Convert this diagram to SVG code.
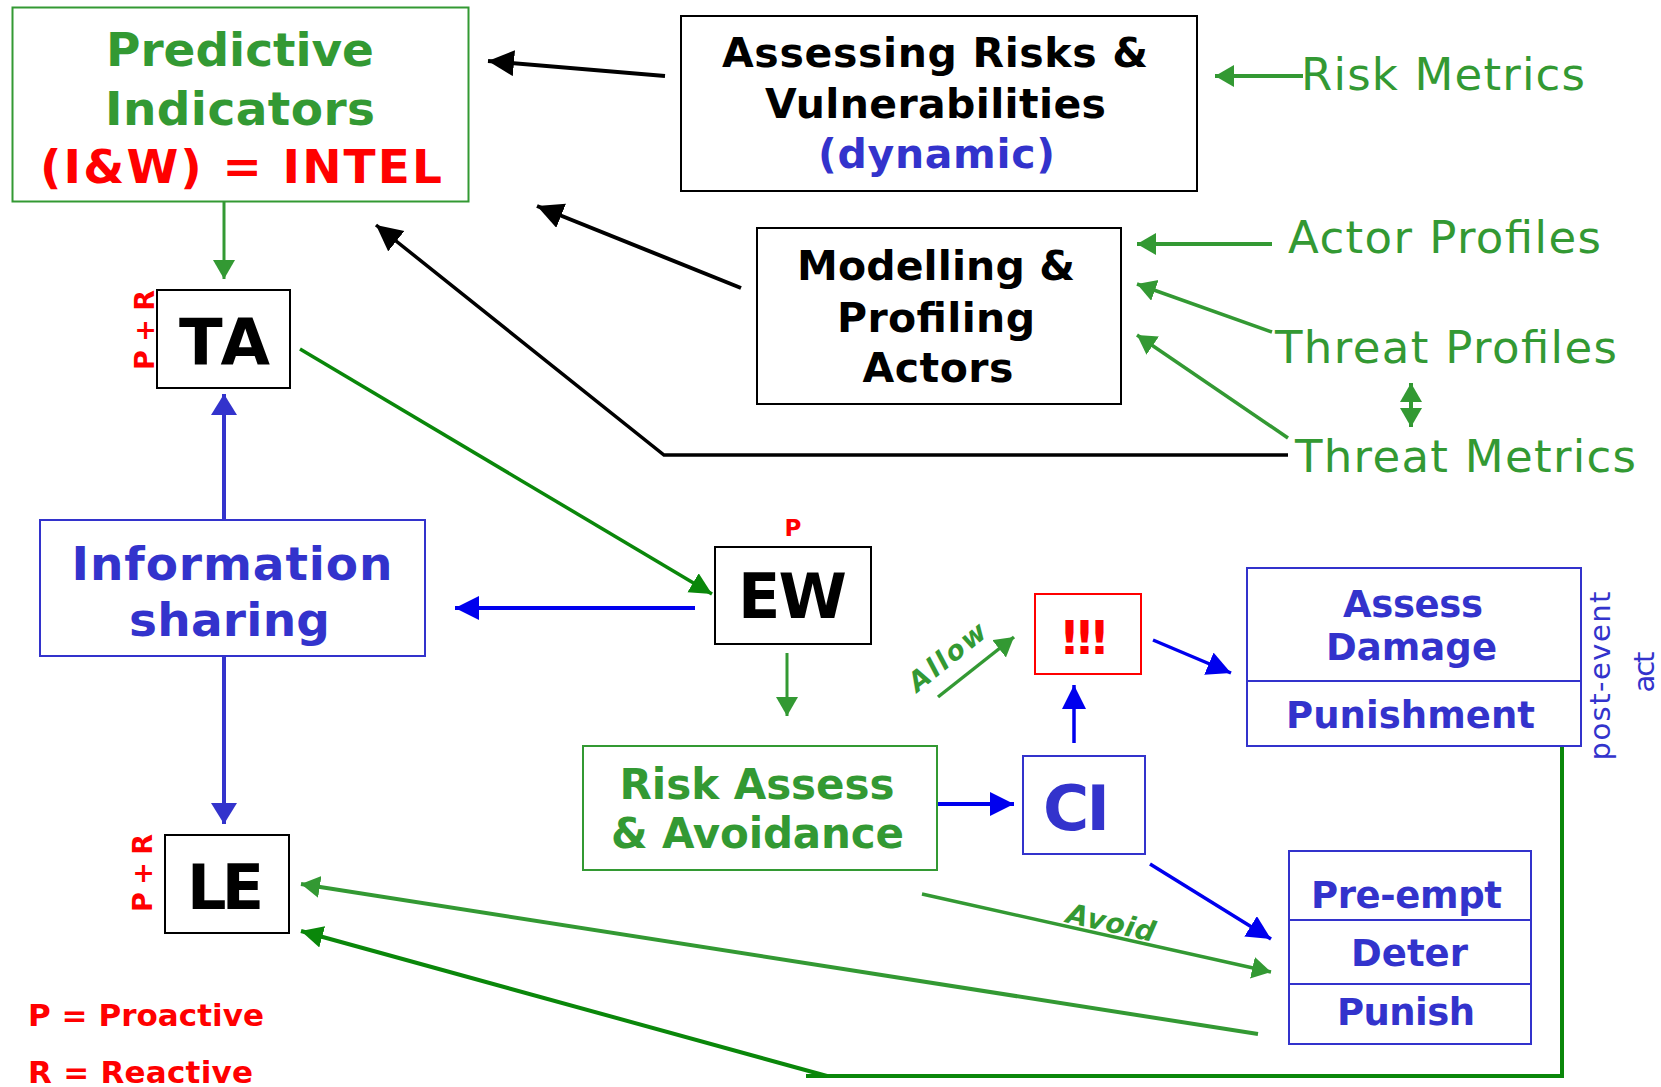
<svg xmlns="http://www.w3.org/2000/svg" width="1661" height="1087" viewBox="0 0 1661 1087">
<defs>
<style>
text{font-family:"DejaVu Sans","Liberation Sans",sans-serif;}
.b{font-weight:bold;}
.box{fill:#fff;stroke-width:2;}
.gr{fill:#339933;} .bl{fill:#3333cc;} .rd{fill:#ff0000;} .bk{fill:#000;}
.c{fill:none;}
</style>
<marker id="mBk" markerUnits="userSpaceOnUse" markerWidth="28" markerHeight="28" refX="26" refY="13" orient="auto"><path d="M0,0 L26,13 L0,26 z" fill="#000"/></marker>
<marker id="mGr" markerUnits="userSpaceOnUse" markerWidth="22" markerHeight="24" refX="19" refY="11" orient="auto"><path d="M0,0 L19,11 L0,22 z" fill="#339933"/></marker>
<marker id="mGrS" markerUnits="userSpaceOnUse" markerWidth="22" markerHeight="24" refX="0" refY="11" orient="auto"><path d="M19,0 L0,11 L19,22 z" fill="#339933"/></marker>
<marker id="mDg" markerUnits="userSpaceOnUse" markerWidth="24" markerHeight="24" refX="22" refY="11" orient="auto"><path d="M0,0 L22,11 L0,22 z" fill="#0a870a"/></marker>
<marker id="mBl" markerUnits="userSpaceOnUse" markerWidth="26" markerHeight="26" refX="24" refY="12" orient="auto"><path d="M0,0 L24,12 L0,24 z" fill="#0000ee"/></marker>
<marker id="mPu" markerUnits="userSpaceOnUse" markerWidth="24" markerHeight="28" refX="21" refY="13" orient="auto"><path d="M0,0 L21,13 L0,26 z" fill="#3333cc"/></marker>
</defs>
<rect width="1661" height="1087" fill="#fff"/>

<g id="connectors" class="c">
<path d="M665,76 L488,61" stroke="#000" stroke-width="4" marker-end="url(#mBk)"/>
<path d="M741,288 L537,206" stroke="#000" stroke-width="4" marker-end="url(#mBk)"/>
<path d="M1288,455 H664 L376,225" stroke="#000" stroke-width="3.5" marker-end="url(#mBk)"/>
<path d="M1303,76 L1215,76" stroke="#339933" stroke-width="4" marker-end="url(#mGr)"/>
<path d="M1272,244 L1137,244" stroke="#339933" stroke-width="4" marker-end="url(#mGr)"/>
<path d="M1272,332 L1137,284" stroke="#339933" stroke-width="3.5" marker-end="url(#mGr)"/>
<path d="M1288,438 L1137,335" stroke="#339933" stroke-width="3.5" marker-end="url(#mGr)"/>
<path d="M1411,383 L1411,427" stroke="#339933" stroke-width="4" marker-start="url(#mGrS)" marker-end="url(#mGr)"/>
<path d="M224,202 L224,279" stroke="#339933" stroke-width="3" marker-end="url(#mGr)"/>
<path d="M787,653 L787,716" stroke="#339933" stroke-width="3" marker-end="url(#mGr)"/>
<path d="M938,697 L1014,637" stroke="#339933" stroke-width="3.5" marker-end="url(#mGr)"/>
<path d="M922,894 L1271,972" stroke="#339933" stroke-width="3.5" marker-end="url(#mGr)"/>
<path d="M1258,1034 L301,884" stroke="#339933" stroke-width="4" marker-end="url(#mGr)"/>
<path d="M300,349 L712,594" stroke="#0a870a" stroke-width="3.5" marker-end="url(#mDg)"/>
<path d="M1562,744 V1076 H806" stroke="#0a870a" stroke-width="4"/>
<path d="M827,1076 L301,931" stroke="#0a870a" stroke-width="4" marker-end="url(#mDg)"/>
<path d="M695,608 L455,608" stroke="#0000ee" stroke-width="4" marker-end="url(#mBl)"/>
<path d="M937,804 L1014,804" stroke="#0000ee" stroke-width="4" marker-end="url(#mBl)"/>
<path d="M1074,743 L1074,685" stroke="#0000ee" stroke-width="3.5" marker-end="url(#mBl)"/>
<path d="M1153,640 L1231,673" stroke="#0000ee" stroke-width="3.5" marker-end="url(#mBl)"/>
<path d="M1150,864 L1271,939" stroke="#0000ee" stroke-width="3.5" marker-end="url(#mBl)"/>
<path d="M224,520 L224,394" stroke="#3333cc" stroke-width="4" marker-end="url(#mPu)"/>
<path d="M224,656 L224,824" stroke="#3333cc" stroke-width="4" marker-end="url(#mPu)"/>
</g>

<g id="predictive">
<rect class="box" x="12.5" y="7.5" width="456" height="194" stroke="#339933"/>
<text class="b gr" x="240" y="66" font-size="47" text-anchor="middle" textLength="268">Predictive</text>
<text class="b gr" x="240" y="125" font-size="47" text-anchor="middle" textLength="270">Indicators</text>
<text class="b rd" x="241" y="183" font-size="47" text-anchor="middle" textLength="402">(I&amp;W) = INTEL</text>
</g>

<g id="assessing">
<rect class="box" x="681" y="16" width="516" height="175" stroke="#000"/>
<text class="b bk" x="935" y="67" font-size="41" text-anchor="middle" textLength="426">Assessing Risks &amp;</text>
<text class="b bk" x="935.5" y="118" font-size="41" text-anchor="middle" textLength="341">Vulnerabilities</text>
<text class="b bl" x="936.5" y="168" font-size="41" text-anchor="middle" textLength="237">(dynamic)</text>
</g>

<g id="modelling">
<rect class="box" x="757" y="228" width="364" height="176" stroke="#000"/>
<text class="b bk" x="936" y="280" font-size="41" text-anchor="middle" textLength="278">Modelling &amp;</text>
<text class="b bk" x="936" y="332" font-size="41" text-anchor="middle" textLength="198">Profiling</text>
<text class="b bk" x="938" y="382" font-size="41" text-anchor="middle" textLength="151">Actors</text>
</g>

<g id="risk-metrics"><text class="gr" x="1301" y="90" font-size="45" textLength="284">Risk Metrics</text></g>
<g id="actor-profiles"><text class="gr" x="1288" y="253" font-size="45" textLength="313">Actor Profiles</text></g>
<g id="threat-profiles"><text class="gr" x="1275" y="363" font-size="45" textLength="342">Threat Profiles</text></g>
<g id="threat-metrics"><text class="gr" x="1295" y="472" font-size="45" textLength="341">Threat Metrics</text></g>

<g id="ta">
<rect class="box" x="157" y="290" width="133" height="98" stroke="#000"/>
<text class="b bk" x="224.5" y="365" font-size="64" text-anchor="middle" textLength="91">TA</text>
<text class="b rd" transform="translate(154,330) rotate(-90)" font-size="27" text-anchor="middle" textLength="80">P + R</text>
</g>

<g id="info-sharing">
<rect class="box" x="40" y="520" width="385" height="136" stroke="#3333cc"/>
<text class="b bl" x="232" y="580" font-size="47" text-anchor="middle" textLength="321">Information</text>
<text class="b bl" x="229.5" y="636" font-size="47" text-anchor="middle" textLength="201">sharing</text>
</g>

<g id="ew">
<rect class="box" x="715" y="547" width="156" height="97" stroke="#000"/>
<text class="b bk" x="792.5" y="618" font-size="62" text-anchor="middle" textLength="109">EW</text>
<text class="b rd" x="793" y="536" font-size="23" text-anchor="middle">P</text>
</g>

<g id="le">
<rect class="box" x="165" y="835" width="124" height="98" stroke="#000"/>
<text class="b bk" x="225.5" y="909" font-size="62" text-anchor="middle" textLength="77">LE</text>
<text class="b rd" transform="translate(152,873) rotate(-90)" font-size="27" text-anchor="middle" textLength="78">P + R</text>
</g>

<g id="risk-assess">
<rect class="box" x="583" y="746" width="354" height="124" stroke="#339933"/>
<text class="b gr" x="757" y="799" font-size="42" text-anchor="middle" textLength="275">Risk Assess</text>
<text class="b gr" x="757.5" y="848" font-size="42" text-anchor="middle" textLength="293">&amp; Avoidance</text>
</g>

<g id="ci">
<rect class="box" x="1023" y="756" width="122" height="98" stroke="#3333cc"/>
<text class="b bl" x="1076.5" y="830" font-size="63" text-anchor="middle" textLength="67">CI</text>
</g>

<g id="event">
<rect class="box" x="1035" y="594" width="106" height="80" stroke="#ff0000"/>
<text class="b rd" x="1084.5" y="654" font-size="46" text-anchor="middle" textLength="51">!!!</text>
</g>

<g id="allow-label"><text class="b gr" font-style="italic" font-size="27" transform="translate(953,664) rotate(-39)" text-anchor="middle" textLength="92">Allow</text></g>
<g id="avoid-label"><text class="b gr" font-style="italic" font-size="28" transform="translate(1109,932) rotate(12.6)" text-anchor="middle" textLength="90">Avoid</text></g>

<g id="assess-damage">
<rect class="box" x="1247" y="568" width="334" height="178" stroke="#3333cc"/>
<line x1="1247" y1="681" x2="1581" y2="681" stroke="#3333cc" stroke-width="2"/>
<text class="b bl" x="1413" y="617" font-size="37" text-anchor="middle" textLength="140">Assess</text>
<text class="b bl" x="1411.5" y="660" font-size="37" text-anchor="middle" textLength="171">Damage</text>
<text class="b bl" x="1410.5" y="728" font-size="37" text-anchor="middle" textLength="249">Punishment</text>
<text class="bl" transform="translate(1610,676) rotate(-90)" font-size="29" text-anchor="middle" textLength="169">post-event</text>
<text class="bl" transform="translate(1654,672) rotate(-90)" font-size="29" text-anchor="middle" textLength="41">act</text>
</g>

<g id="preempt">
<rect class="box" x="1289" y="851" width="242" height="193" stroke="#3333cc"/>
<line x1="1289" y1="920" x2="1531" y2="920" stroke="#3333cc" stroke-width="2"/>
<line x1="1289" y1="984" x2="1531" y2="984" stroke="#3333cc" stroke-width="2"/>
<text class="b bl" x="1406.5" y="908" font-size="37" text-anchor="middle" textLength="191">Pre-empt</text>
<text class="b bl" x="1409.5" y="966" font-size="37" text-anchor="middle" textLength="117">Deter</text>
<text class="b bl" x="1406" y="1025" font-size="37" text-anchor="middle" textLength="138">Punish</text>
</g>

<g id="legend">
<text class="b rd" x="28" y="1026" font-size="31" textLength="236">P = Proactive</text>
<text class="b rd" x="28" y="1083" font-size="31" textLength="225">R = Reactive</text>
</g>
</svg>
